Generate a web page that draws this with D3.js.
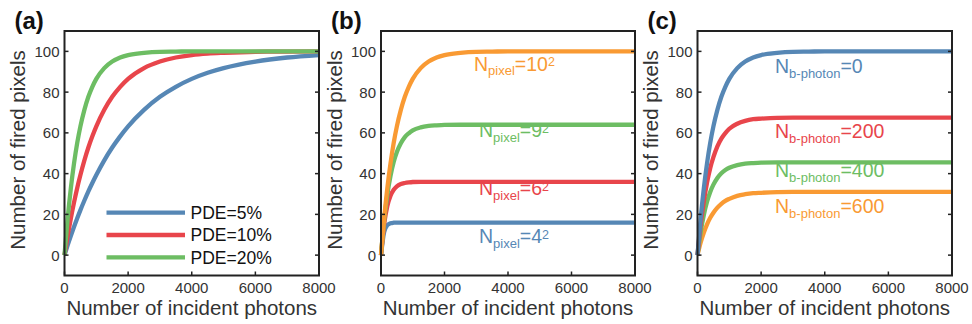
<!DOCTYPE html>
<html>
<head>
<meta charset="utf-8">
<script src="https://cdn.jsdelivr.net/npm/d3@7/dist/d3.min.js"></script>
<style>
  body { margin: 0; background: #fff; }
  svg { display: block; font-family: Arial, "Liberation Sans", sans-serif; }
</style>
</head>
<body>
<svg id="chart" width="972" height="324"></svg>
<script>
// values
const photons = [0, 100, 200, 300, 400, 500, 625, 750, 875, 1000, 1250, 1500, 1750, 2000, 2500, 3000, 3500, 4000, 4500, 5000, 6000, 7000, 8000];

// (a) PDE series
const pde5  = [0, 4.9, 9.5, 13.9, 18.1, 22.1, 26.8, 31.3, 35.4, 39.3, 46.5, 52.8, 58.3, 63.2, 71.3, 77.7, 82.6, 86.5, 89.5, 91.8, 95, 97, 98.2];
const pde10 = [0, 9.5, 18.1, 25.9, 33, 39.3, 46.5, 52.8, 58.3, 63.2, 71.3, 77.7, 82.6, 86.5, 91.8, 95, 97, 98.2, 98.9, 99.3, 99.8, 99.9, 100];
const pde20 = [0, 18.1, 33, 45.1, 55.1, 63.2, 71.3, 77.7, 82.6, 86.5, 91.8, 95, 97, 98.2, 99.3, 99.8, 99.9, 100, 100, 100, 100, 100, 100];

// (b) N_pixel series
const npix10 = [0, 18.1, 33, 45.1, 55.1, 63.2, 71.3, 77.7, 82.6, 86.5, 91.8, 95, 97, 98.2, 99.3, 99.8, 99.9, 100, 100, 100, 100, 100, 100];
const npix9  = [0, 17.2, 29.7, 38.9, 45.7, 50.6, 54.9, 57.9, 59.8, 61.2, 62.7, 63.4, 63.7, 63.9, 64, 64, 64, 64, 64, 64, 64, 64, 64];
const npix6  = [0, 15.3, 24.1, 29.2, 32.1, 33.8, 34.9, 35.4, 35.7, 35.9, 36, 36, 36, 36, 36, 36, 36, 36, 36, 36, 36, 36, 36];
const npix4  = [0, 11.4, 14.7, 15.6, 15.9, 16, 16, 16, 16, 16, 16, 16, 16, 16, 16, 16, 16, 16, 16, 16, 16, 16, 16];

// (c) background photon series
const nb0   = [0, 18.1, 33, 45.1, 55.1, 63.2, 71.3, 77.7, 82.6, 86.5, 91.8, 95, 97, 98.2, 99.3, 99.8, 99.9, 100, 100, 100, 100, 100, 100];
const nb200 = [0, 14.9, 26.5, 35.6, 42.7, 48.1, 53.4, 57.2, 59.9, 62, 64.5, 65.9, 66.7, 67, 67.4, 67.5, 67.5, 67.5, 67.5, 67.5, 67.5, 67.5, 67.5];
const nb400 = [0, 11.3, 19.8, 26.2, 31, 34.6, 37.9, 40.2, 41.8, 42.9, 44.2, 44.9, 45.2, 45.4, 45.5, 45.5, 45.5, 45.5, 45.5, 45.5, 45.5, 45.5, 45.5];
const nb600 = [0, 6.2, 11.1, 15.1, 18.3, 20.8, 23.3, 25.2, 26.6, 27.6, 29.1, 29.9, 30.4, 30.6, 30.9, 31, 31, 31, 31, 31, 31, 31, 31];

const xTicks = [0, 2000, 4000, 6000, 8000];
const yTicks = [0, 20, 40, 60, 80, 100];

const C = { blue: '#5687b5', red: '#e8454b', green: '#6dbd63', orange: '#f99a33' };

const svg = d3.select('#chart');
const plotTop = 31, plotBottom = 275.5;

function panel(left, right, tag, series) {
  const x = d3.scaleLinear().domain([0, 8000]).range([left, right]);
  const y = d3.scaleLinear().domain([-10, 110]).range([plotBottom, plotTop]);
  const g = svg.append('g');

  const line = d3.line()
    .x((d, i) => x(photons[i]))
    .y(d => y(d))
    .curve(d3.curveMonotoneX);

  series.forEach(s => {
    g.append('path')
      .attr('d', line(s.values))
      .attr('fill', 'none')
      .attr('stroke', s.color)
      .attr('stroke-width', 4.3)
      .attr('stroke-linejoin', 'round');
  });

  // ticks inside the box
  const tl = 4;
  yTicks.forEach(t => {
    g.append('line').attr('x1', left).attr('x2', left + tl).attr('y1', y(t)).attr('y2', y(t))
      .attr('stroke', '#222').attr('stroke-width', 1.5);
    g.append('line').attr('x1', right).attr('x2', right - tl).attr('y1', y(t)).attr('y2', y(t))
      .attr('stroke', '#222').attr('stroke-width', 1.5);
    g.append('text').attr('x', left - 5).attr('y', y(t) + 5.5)
      .attr('text-anchor', 'end').attr('font-size', 15).attr('fill', '#333').text(t);
  });
  xTicks.forEach(t => {
    g.append('line').attr('x1', x(t)).attr('x2', x(t)).attr('y1', plotBottom).attr('y2', plotBottom - tl)
      .attr('stroke', '#222').attr('stroke-width', 1.5);
    g.append('text').attr('x', x(t)).attr('y', plotBottom + 17)
      .attr('text-anchor', 'middle').attr('font-size', 15).attr('fill', '#333').text(t);
  });

  g.append('rect')
    .attr('x', left).attr('y', plotTop)
    .attr('width', right - left).attr('height', plotBottom - plotTop)
    .attr('fill', 'none').attr('stroke', '#222').attr('stroke-width', 2);

  g.append('text')
    .attr('x', (left + right) / 2).attr('y', 315)
    .attr('text-anchor', 'middle').attr('font-size', 20.5).attr('fill', '#333')
    .text('Number of incident photons');

  g.append('text')
    .attr('transform', `translate(${left - 39.5},150) rotate(-90)`)
    .attr('text-anchor', 'middle').attr('font-size', 20.5).attr('fill', '#333')
    .text('Number of fired pixels');

  g.append('text')
    .attr('x', left - 50).attr('y', 29)
    .attr('font-size', 24).attr('font-weight', 'bold').attr('fill', '#111')
    .text(tag);

  return { g, x, y };
}

function subLabel(g, xp, yp, color, sub, tail, sup) {
  const t = g.append('text').attr('x', xp).attr('y', yp).attr('fill', color).attr('font-size', 19.5);
  t.append('tspan').text('N');
  t.append('tspan').attr('font-size', 13).attr('dy', 4.5).text(sub);
  t.append('tspan').attr('font-size', 19.5).attr('dy', -4.5).text(tail);
  if (sup) t.append('tspan').attr('font-size', 12.5).attr('dy', -4.5).text(sup);
}

// (a)
const pa = panel(64.5, 319, '(a)', [
  { values: pde5, color: C.blue },
  { values: pde10, color: C.red },
  { values: pde20, color: C.green }
]);
const legend = [
  { label: 'PDE=5%', color: C.blue },
  { label: 'PDE=10%', color: C.red },
  { label: 'PDE=20%', color: C.green }
];
legend.forEach((d, i) => {
  const ly = 212.7 + i * 22.3;
  pa.g.append('line').attr('x1', 106.5).attr('x2', 185).attr('y1', ly).attr('y2', ly)
    .attr('stroke', d.color).attr('stroke-width', 4.3);
  pa.g.append('text').attr('x', 190.5).attr('y', ly + 6.3)
    .attr('font-size', 17.5).attr('fill', '#111').text(d.label);
});

// (b)
const pb = panel(381, 635, '(b)', [
  { values: npix4, color: C.blue },
  { values: npix6, color: C.red },
  { values: npix9, color: C.green },
  { values: npix10, color: C.orange }
]);
subLabel(pb.g, 474, 70.7, C.orange, 'pixel', '=10', '2');
subLabel(pb.g, 479, 137, C.green, 'pixel', '=9', '2');
subLabel(pb.g, 479, 195, C.red, 'pixel', '=6', '2');
subLabel(pb.g, 479, 243, C.blue, 'pixel', '=4', '2');

// (c)
const pc = panel(697.5, 952, '(c)', [
  { values: nb600, color: C.orange },
  { values: nb400, color: C.green },
  { values: nb200, color: C.red },
  { values: nb0, color: C.blue }
]);
subLabel(pc.g, 775, 73, C.blue, 'b-photon', '=0');
subLabel(pc.g, 775, 138, C.red, 'b-photon', '=200');
subLabel(pc.g, 775, 177, C.green, 'b-photon', '=400');
subLabel(pc.g, 775, 213, C.orange, 'b-photon', '=600');
</script>
</body>
</html>
